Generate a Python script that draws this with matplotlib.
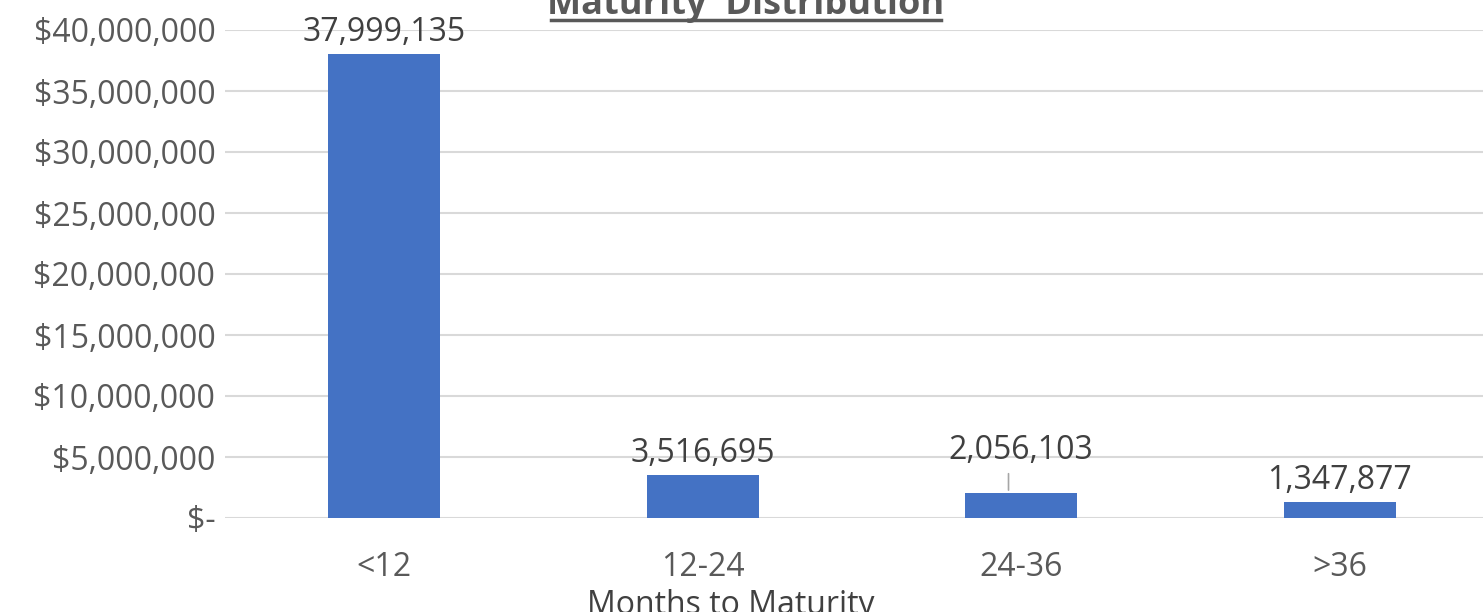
import matplotlib.pyplot as plt
from matplotlib.ticker import FuncFormatter

# Maturity buckets and amounts
categories = ["<12", "12-24", "24-36", ">36"]
amounts = [37999135, 3516695, 2056103, 1347877]
yticks = list(range(0, 40000001, 5000000))

plt.rcParams['font.family'] = ['Open Sans', 'DejaVu Sans']
grey = '#595959'

fig = plt.figure(figsize=(14.83, 6.12), dpi=100)
ax = fig.add_axes([225 / 1483, 94 / 612, 1274 / 1483, 488 / 612])

x = range(len(categories))
bars = ax.bar(x, amounts, width=0.352, color='#4472C4', zorder=3)

ax.set_xlim(-0.5, len(categories) - 0.5)
ax.set_ylim(0, 40000000)
ax.set_yticks(yticks)
ax.yaxis.set_major_formatter(FuncFormatter(
    lambda v, p: "$-" if v == 0 else f"${v:,.0f}"))
ax.set_xticks(list(x))
ax.set_xticklabels(categories)
ax.tick_params(length=0, labelsize=23, colors=grey, pad=7)
ax.tick_params(axis='x', pad=24)
ax.grid(True, axis='y', color='#d9d9d9', linewidth=1.5, zorder=0)
for s in ax.spines.values():
    s.set_visible(False)

# data labels; the 24-36 one sits higher with a leader line
for i, (b, v) in enumerate(zip(bars, amounts)):
    lift = 26 if i == 2 else 5
    ax.annotate(f"{v:,}", (b.get_x() + b.get_width() / 2, v),
                xytext=(0, lift), textcoords='offset pixels',
                ha='center', va='bottom', fontsize=23, color='#404040')
    if i == 2:
        ax.annotate("", (b.get_x() + b.get_width() / 2 - 0.04, v),
                    xytext=(0, 22), textcoords='offset pixels',
                    arrowprops=dict(arrowstyle='-', color='#a6a6a6', lw=1.2))

# title (bold, underlined) partially cut off at the top
t = fig.text(746 / 1483, 1 - 14 / 612, "Maturity  Distribution", ha='center',
             va='baseline', fontsize=26, fontweight='bold', color=grey)
fig.add_artist(plt.Line2D([551 / 1483, 941 / 1483], [1 - 20 / 612] * 2,
                          color=grey, lw=2.5))

# axis title, cut at the bottom edge like the original
fig.text(731 / 1483, 1 - 606 / 612, "Months to Maturity", ha='center',
         va='center', fontsize=23, color='#404040')

fig.savefig("out.png", dpi=100)
